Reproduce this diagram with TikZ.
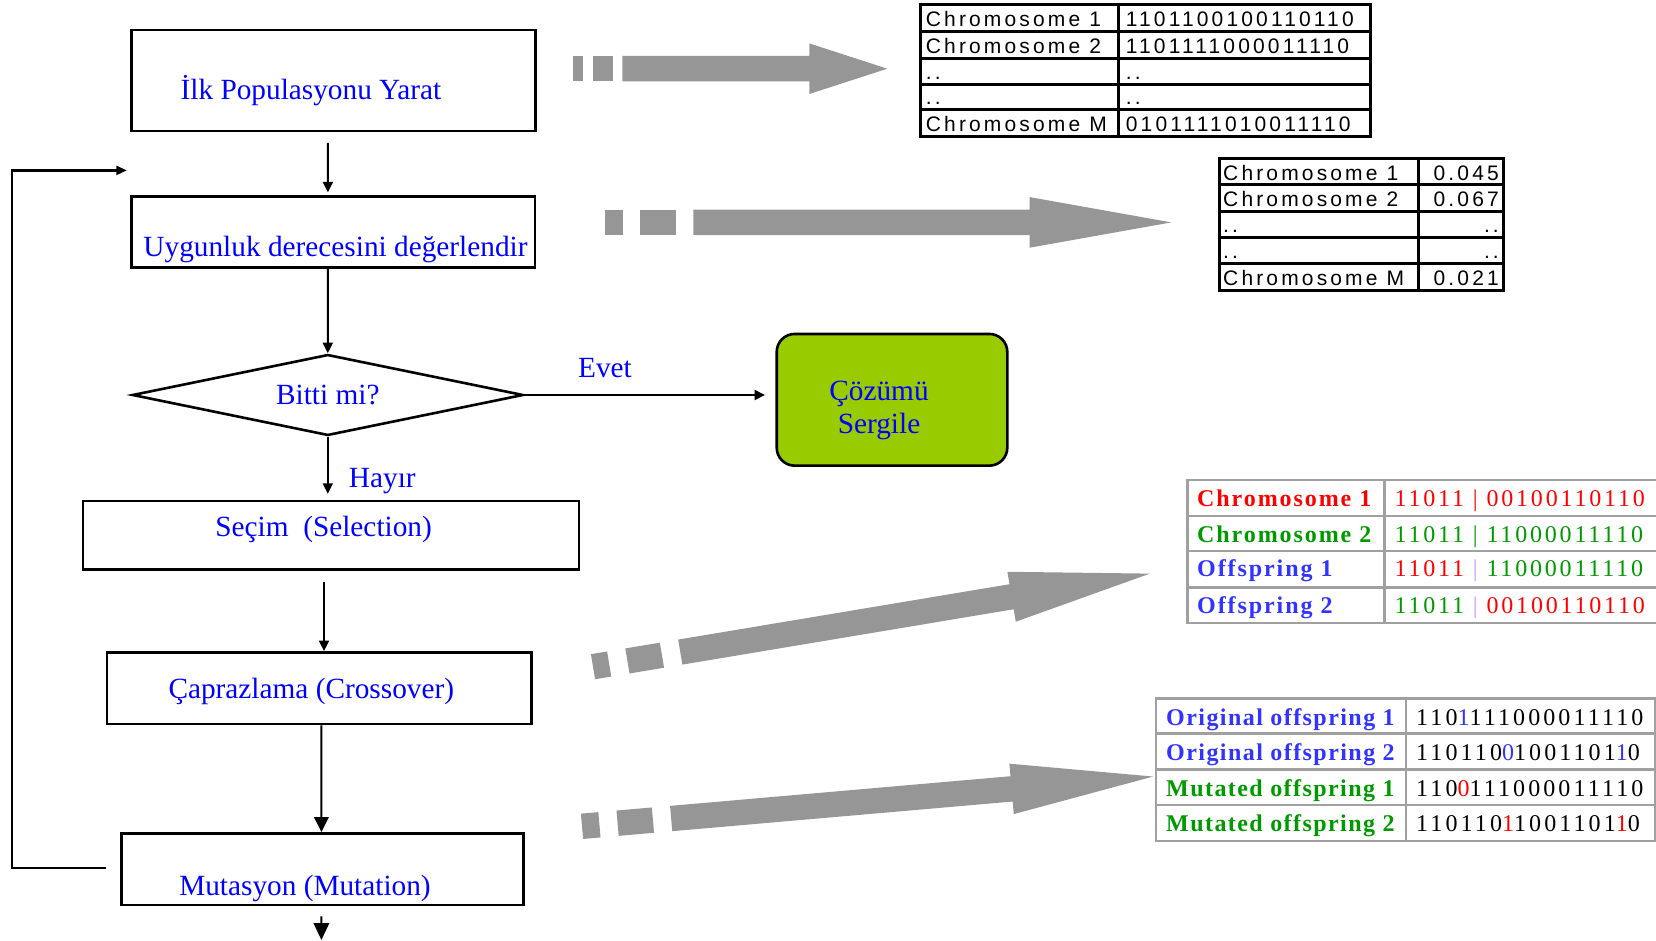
\documentclass[tikz,border=0pt]{standalone}
\usepackage{fontspec}
\setmainfont{Liberation Serif}
\newfontfamily\tabsans[LetterSpace=15]{Liberation Sans}
\newfontfamily\tablabA[LetterSpace=8]{Liberation Serif}
\newfontfamily\tablabB[LetterSpace=6]{Liberation Serif}
\newfontfamily\tabdigA[LetterSpace=11.7]{Liberation Serif}
\newfontfamily\tabdigB[LetterSpace=13]{Liberation Serif}
\usetikzlibrary{shapes.geometric,arrows.meta,calc}
\definecolor{arrowgray}{RGB}{150,150,150}
\definecolor{tabgray}{RGB}{160,160,160}
\definecolor{solgreen}{RGB}{153,204,0}
\definecolor{cred}{RGB}{255,0,0}
\definecolor{cgreen}{RGB}{0,153,0}
\definecolor{cblue}{RGB}{51,51,255}
\definecolor{clav}{RGB}{204,153,255}
\definecolor{fblue}{RGB}{0,0,255}
% gray block arrow: origin, angle, dash1 end, dash2 start, dash2 end, shaft start, head base, tip
\newcommand{\gArrow}[8]{%
  \begin{scope}[shift={#1},rotate=#2]
    \fill[arrowgray] (0,-12.7) rectangle (#3,12.7);
    \fill[arrowgray] (#4,-12.7) rectangle (#5,12.7);
    \fill[arrowgray] (#6,-12.7) -- (#7,-12.7) -- (#7,-25.3) -- (#8,0) -- (#7,25.3) -- (#7,12.7) -- (#6,12.7) -- cycle;
  \end{scope}}
\begin{document}
\begin{tikzpicture}[x=1pt,y=-1pt,
  box/.style={draw,line width=2.6pt,inner sep=0pt},
  ftext/.style={text=fblue,font=\fontsize{29.3}{33}\selectfont,inner sep=0pt,anchor=base},
  arr/.style={line width=2pt,-{Triangle[width=10pt,length=10.5pt]}},
  bigarr/.style={line width=2pt,-{Triangle[width=14.5pt,length=15pt]}},
  hugearr/.style={line width=2pt,-{Triangle[width=15.5pt,length=17pt]}},
  tline/.style={line width=3pt},
  gline/.style={line width=2.4pt,tabgray},
  tsans/.style={inner sep=0pt,font=\tabsans\fontsize{21}{24}\selectfont},
  tlabA/.style={inner sep=0pt,anchor=base west,font=\tablabA\bfseries\fontsize{24}{28}\selectfont},
  tlabB/.style={inner sep=0pt,anchor=base west,font=\tablabB\bfseries\fontsize{24}{28}\selectfont},
  tdigA/.style={inner sep=0pt,anchor=base west,font=\tabdigA\fontsize{24}{28}\selectfont},
  tdigB/.style={inner sep=0pt,anchor=base west,font=\tabdigB\fontsize{24}{28}\selectfont}]
\useasboundingbox (0,0) rectangle (1656,941);

% ---------------- flowchart boxes ----------------
\node[box,minimum width=404pt,minimum height=101pt] (b1) at (333.7,80.5) {};
\node[box,minimum width=403.5pt,minimum height=70.6pt] (b2) at (333.3,232) {};
\node[draw,line width=2.6pt,shape=diamond,aspect=4.83,inner sep=2pt,minimum width=391pt,minimum height=81pt,
      text=fblue,font=\fontsize{29.3}{33}\selectfont] (d) at (327.8,395) {Bitti mi?};
\node[draw,line width=2.6pt,fill=solgreen,rounded corners=18pt,minimum width=230.6pt,minimum height=131.7pt,inner sep=0pt] (g) at (892,399.8) {};
\node[box,minimum width=496pt,minimum height=68.3pt] (sel) at (331,535.2) {};
\node[box,minimum width=424.4pt,minimum height=71.7pt] (cr) at (319.2,688.2) {};
\node[box,minimum width=401.8pt,minimum height=71.7pt] (mu) at (322.3,869.2) {};

% ---------------- flowchart texts ----------------
\node[ftext] (tb1) at (311,100) {İlk Populasyonu Yarat};
\node[ftext] (tb2) at (335.5,256.7) {Uygunluk derecesini değerlendir};
\node[ftext] (tevet) at (605,377.3) {Evet};
\node[ftext] (tg1) at (879,400) {Çözümü};
\node[ftext] (tg2) at (879,433.3) {Sergile};
\node[ftext] (thayir) at (382.3,487) {Hayır};
\node[ftext] (tsel) at (323.6,536.7) {Seçim\ \ (Selection)};
\node[ftext] (tcr) at (311.3,698.3) {Çaprazlama (Crossover)};
\node[ftext] (tmu) at (305,895) {Mutasyon (Mutation)};

% ---------------- flowchart connectors ----------------
\draw[arr] ($(b1.south)+(-5.8,10.7)$) -- ($(b2.north)+(-5.4,-3)$);
\draw[arr] ($(b2.south)+(-5.4,0)$) -- (d.north);
\coordinate (evetend) at (765,395);
\draw[arr] (d.east) -- (evetend);
\draw[arr] (d.south) -- ($(d.south |- sel.north)+(0,-6)$);
\draw[arr] ($(sel.south)+(-7,11.4)$) -- ($(cr.north)+(4.8,0)$);
\draw[bigarr] ($(cr.south)+(2.2,0)$) -- ($(mu.north)+(-0.9,0)$);
\coordinate (endout) at (321.4,940);
\draw[hugearr] ($(mu.south)+(-0.9,10)$) -- (endout);
\coordinate (loopend) at (126.8,170.4);
\draw[line width=2.3pt,-{Triangle[width=9pt,length=10.5pt]}] ($(mu.west)+(-14.4,-0.9)$) -- (11.8,868.3) -- (11.8,170.4) -- (loopend);

% ---------------- gray block arrows ----------------
\gArrow{(572.7,68.7)}{0}{10.6}{20}{40}{49.6}{236.6}{314.6}
\gArrow{(605,222.4)}{0}{18}{35}{70.7}{88.3}{424.7}{566.3}
\gArrow{(593,666.7)}{9.49}{16.4}{34.9}{69.9}{88.5}{424.4}{564.6}
\gArrow{(582,826.3)}{4.98}{17.5}{35.7}{71.2}{89.5}{431.2}{573.3}

% ---------------- table 1 ----------------
\draw[tline] (920.7,5) rectangle (1370,136.7);
\draw[tline] (1118.3,5) -- (1118.3,136.7);
\foreach \yy in {31.7,58.3,84.3,110} \draw[tline] (920.7,\yy) -- (1370,\yy);
\foreach \lab/\val/\yy [count=\i] in {Chromosome 1/1101100100110110/26.7,Chromosome 2/1101111000011110/53.3,../../79.3,../../105,Chromosome M/0101111010011110/131.7}{
  \node[tsans,anchor=base west] (ta\i) at (925.7,\yy) {\lab};
  \node[tsans,anchor=base west] (tb\i) at (1125.7,\yy) {\val};
}

% ---------------- table 2 ----------------
\draw[tline] (1219.5,158.3) rectangle (1503.3,290);
\draw[tline] (1418.3,158.3) -- (1418.3,290);
\foreach \yy in {185,211.7,237.3,263.3} \draw[tline] (1219.5,\yy) -- (1503.3,\yy);
\foreach \lab/\val/\yy [count=\i] in {Chromosome 1/0.045/180.3,Chromosome 2/0.067/206.7,../../232.3,../../258.3,Chromosome M/0.021/285}{
  \node[tsans,anchor=base west] (tc\i) at (1223,\yy) {\lab};
  \node[tsans,anchor=base east] (td\i) at (1499,\yy) {\val};
}

% ---------------- table 3 ----------------
\draw[gline] (1656,480) -- (1187.3,480) -- (1187.3,622.7) -- (1656,622.7);
\draw[gline] (1384.3,480) -- (1384.3,622.7);
\foreach \yy in {516,550.7,587.3} \draw[gline] (1187.3,\yy) -- (1656,\yy);
\node[tlabA,text=cred] (te1) at (1197,506) {Chromosome 1};
\node[tlabA,text=cgreen] (te2) at (1197,542) {Chromosome 2};
\node[tlabA,text=cblue] (te3) at (1197,576.7) {Offspring 1};
\node[tlabA,text=cblue] (te4) at (1197,613.3) {Offspring 2};
\node[tdigA,text=cred] (tf1) at (1394.5,506) {11011 | 00100110110};
\node[tdigA,text=cgreen] (tf2) at (1394.5,542) {11011 | 11000011110};
\node[tdigA] (tf3) at (1394.5,576.7) {\color{cred}11011 \color{clav}| \color{cgreen}11000011110};
\node[tdigA] (tf4) at (1394.5,613.3) {\color{cgreen}11011 \color{clav}| \color{cred}00100110110};

% ---------------- table 4 ----------------
\draw[gline] (1156,698.3) rectangle (1655,840.7);
\draw[gline] (1406,698.3) -- (1406,840.7);
\foreach \yy in {733.3,769.3,805} \draw[gline] (1156,\yy) -- (1655,\yy);
\node[tlabB,text=cblue] (tg1l) at (1166,725) {Original offspring 1};
\node[tlabB,text=cblue] (tg2l) at (1166,760) {Original offspring 2};
\node[tlabB,text=cgreen] (tg3l) at (1166,796) {Mutated offspring 1};
\node[tlabB,text=cgreen] (tg4l) at (1166,831.7) {Mutated offspring 2};
\node[tdigB] (th1) at (1416,725) {110{\color{cblue}1}111000011110};
\node[tdigB] (th2) at (1416,760) {110110{\color{cblue}0}1001101{\color{cblue}1}0};
\node[tdigB] (th3) at (1416,796) {110{\color{cred}0}111000011110};
\node[tdigB] (th4) at (1416,831.7) {110110{\color{cred}1}1001101{\color{cred}1}0};
\end{tikzpicture}
\end{document}
